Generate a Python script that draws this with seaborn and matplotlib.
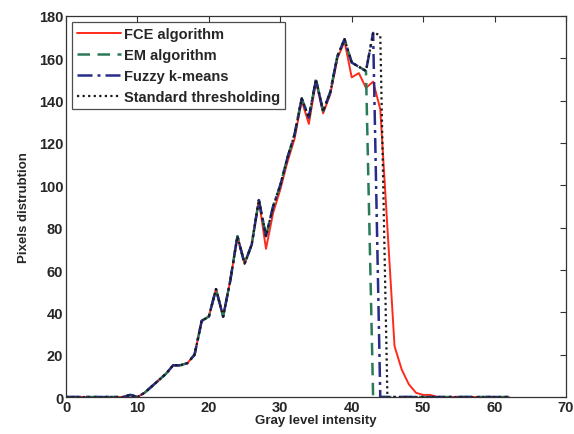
import numpy as np
import pandas as pd
import matplotlib
matplotlib.use("Agg")
import matplotlib.pyplot as plt
import seaborn as sns

# Gray level intensities
gray = list(range(0, 63))

# Shared base histogram (dark curve) for 0..42
base = [0, 0, 0, 0, 0, 0, 0, 0, 0, 1,
        0, 2, 5, 8, 11, 15, 15, 16, 20, 36,
        38, 51, 38, 55, 76, 63, 72, 93, 76, 90,
        100, 113, 124, 141, 132, 150, 135, 144, 161, 169,
        158, 156, 154]

fce = [0, 0, 0, 0, 0, 0, 0, 0, 0, 1,
       0, 2, 5, 8, 11, 15, 15, 16, 20, 36,
       38, 51, 38, 55, 76, 63, 72, 93, 70, 87,
       98, 111, 122, 140, 129, 149, 134, 143, 160, 168,
       151, 153, 146, 149, 136, 80, 24, 13, 6, 2,
       1, 1, 0] + [0] * 10

em = base[:43] + [0] + [0] * 19
fuzzy = base[:43] + [172, 0] + [0] * 18
standard = base[:43] + [172, 171, 0] + [0] * 17

series_names = ["FCE algorithm", "EM algorithm", "Fuzzy k-means", "Standard thresholding"]
series_values = [fce, em, fuzzy, standard]

x_ticks = [0, 10, 20, 30, 40, 50, 60, 70]
y_ticks = [0, 20, 40, 60, 80, 100, 120, 140, 160, 180]

sns.set_theme(style="white")
plt.rcParams["font.family"] = ["Liberation Sans", "DejaVu Sans"]
plt.rcParams["font.weight"] = "bold"

fig = plt.figure(figsize=(5.74, 4.35), dpi=100)
ax = fig.add_axes([0.115, 0.085, 0.871, 0.876])

colors = ["#ff2a1a", "#2a7a5a", "#262c88", "#1a1a1a"]
styles = ["-", (0, (5, 3)), (0, (6, 2, 1.2, 2)), (0, (1, 1.5))]
widths = [1.4, 1.8, 1.8, 1.6]

for name, vals, c, ls, lw in zip(series_names, series_values, colors, styles, widths):
    df = pd.DataFrame({"x": gray, "y": vals})
    sns.lineplot(data=df, x="x", y="y", ax=ax, color=c, linestyle=ls,
                 linewidth=lw, label=name)

ax.set_xlim(0, 70)
ax.set_ylim(0, 180)
ax.set_xticks(x_ticks)
ax.set_yticks(y_ticks)
ax.set_xlabel("Gray level intensity", fontsize=9.5, fontweight="bold", labelpad=0)
ax.set_ylabel("Pixels distrubtion", fontsize=9.5, fontweight="bold", labelpad=6)
ax.tick_params(direction="in", length=4, width=0.8, top=True, right=True,
               labelsize=10.5, pad=2, color="#333333")
for lab in ax.get_xticklabels() + ax.get_yticklabels():
    lab.set_fontweight("bold")
for sp in ax.spines.values():
    sp.set_color("#333333")
    sp.set_linewidth(0.9)

leg = ax.legend(loc="upper left", fontsize=10.5, frameon=True, fancybox=False,
                borderpad=0.35, handlelength=3.0, handletextpad=0.2,
                labelspacing=0.48, borderaxespad=0.4)
leg.get_frame().set_edgecolor("#222222")
leg.get_frame().set_linewidth(0.9)
for t in leg.get_texts():
    t.set_fontweight("bold")

fig.savefig("out.png", dpi=100)
